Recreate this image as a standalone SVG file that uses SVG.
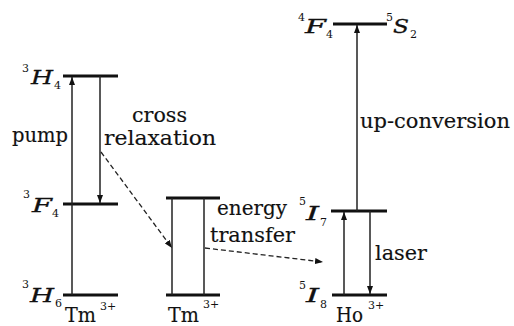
<svg xmlns="http://www.w3.org/2000/svg" width="514" height="326" viewBox="0 0 514 326">
<style>
.lvl{stroke:#111;stroke-width:3;fill:none}
.tr{stroke:#222;stroke-width:1.5;fill:none}
.ds{stroke:#222;stroke-width:1.3;fill:none;stroke-dasharray:5 3}
text{font-family:"DejaVu Serif","Liberation Serif",serif;fill:#111}
.t{font-size:20px;stroke:#111;stroke-width:0.15}
.it{font-size:19px;font-style:italic;stroke:#111;stroke-width:0.3}
.sm{font-size:11px}
</style>
<defs>
<marker id="ah" markerWidth="8" markerHeight="6" refX="8" refY="3" orient="auto" markerUnits="userSpaceOnUse">
<path d="M0,0 L8,3 L0,6 Z" fill="#111"/>
</marker>
</defs>
<g id="tm1">
<line class="lvl" x1="63" y1="76" x2="118" y2="76"/>
<line class="lvl" x1="63" y1="204" x2="118" y2="204"/>
<line class="lvl" x1="63" y1="295" x2="118" y2="295"/>
<text class="sm" x="22" y="72">3</text><text class="it" x="31" y="84" textLength="22" lengthAdjust="spacingAndGlyphs">H</text><text class="sm" x="54" y="89">4</text>
<text class="sm" x="23" y="198">3</text><text class="it" x="32" y="212" textLength="20" lengthAdjust="spacingAndGlyphs">F</text><text class="sm" x="52" y="217">4</text>
<text class="sm" x="22" y="288">3</text><text class="it" x="30" y="302" textLength="24" lengthAdjust="spacingAndGlyphs">H</text><text class="sm" x="55" y="307">6</text>
<text class="t" x="65" y="322" textLength="31" lengthAdjust="spacingAndGlyphs">Tm</text>
<text class="sm" x="100" y="310">3+</text>
</g>
<g id="tm2">
<line class="lvl" x1="166" y1="198" x2="220" y2="198"/>
<line class="lvl" x1="166" y1="295" x2="220" y2="295"/>
<text class="t" x="168" y="322" textLength="31" lengthAdjust="spacingAndGlyphs">Tm</text>
<text class="sm" x="203" y="308">3+</text>
</g>
<g id="ho">
<line class="lvl" x1="333" y1="24" x2="387" y2="24"/>
<line class="lvl" x1="331" y1="211" x2="387" y2="211"/>
<line class="lvl" x1="332" y1="295" x2="387" y2="295"/>
<text class="sm" x="298" y="21">4</text><text class="it" x="305" y="33" textLength="21" lengthAdjust="spacingAndGlyphs">F</text><text class="sm" x="326" y="38">4</text>
<text class="sm" x="386" y="21">5</text><text class="it" x="393" y="33" textLength="16" lengthAdjust="spacingAndGlyphs">S</text><text class="sm" x="410" y="38">2</text>
<text class="sm" x="299" y="205">5</text><text class="it" x="306" y="220" textLength="13" lengthAdjust="spacingAndGlyphs">I</text><text class="sm" x="320" y="226">7</text>
<text class="sm" x="299" y="289">5</text><text class="it" x="306" y="302" textLength="13" lengthAdjust="spacingAndGlyphs">I</text><text class="sm" x="320" y="308">8</text>
<text class="t" x="336" y="322" textLength="27" lengthAdjust="spacingAndGlyphs">Ho</text>
<text class="sm" x="368" y="309">3+</text>
</g>
<g id="connectors">
<line class="tr" x1="72" y1="295" x2="72" y2="77" marker-end="url(#ah)"/>
<line class="tr" x1="100" y1="76" x2="100" y2="203" marker-end="url(#ah)"/>
<line class="tr" x1="172" y1="198" x2="172" y2="295"/>
<line class="tr" x1="204" y1="198" x2="204" y2="295"/>
<line class="tr" x1="357" y1="211" x2="357" y2="25" marker-end="url(#ah)"/>
<line class="tr" x1="344" y1="295" x2="344" y2="212" marker-end="url(#ah)"/>
<line class="tr" x1="370" y1="211" x2="370" y2="294" marker-end="url(#ah)"/>
<line class="ds" x1="101" y1="152" x2="172" y2="248" marker-end="url(#ah)"/>
<line class="ds" x1="205" y1="248" x2="323" y2="262" marker-end="url(#ah)"/>
</g>
<g id="labels">
<text class="t" x="12" y="142" textLength="56" lengthAdjust="spacingAndGlyphs">pump</text>
<text class="t" x="132" y="122" textLength="55" lengthAdjust="spacingAndGlyphs">cross</text>
<text class="t" x="104" y="145" textLength="112" lengthAdjust="spacingAndGlyphs">relaxation</text>
<text class="t" x="217" y="215" textLength="70" lengthAdjust="spacingAndGlyphs">energy</text>
<text class="t" x="210" y="242" textLength="85" lengthAdjust="spacingAndGlyphs">transfer</text>
<text class="t" x="375" y="260" textLength="52" lengthAdjust="spacingAndGlyphs">laser</text>
<text class="t" x="360" y="128" textLength="150" lengthAdjust="spacingAndGlyphs">up-conversion</text>
</g>
</svg>
